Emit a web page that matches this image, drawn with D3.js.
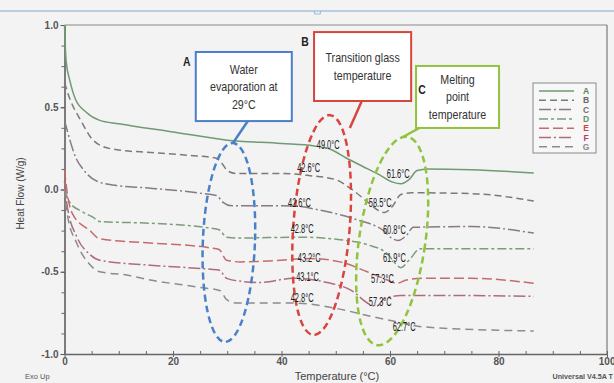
<!DOCTYPE html>
<html><head><meta charset="utf-8">
<script src="https://cdn.jsdelivr.net/npm/d3@7"></script>
<style>body{margin:0;background:#f3f3f4;} svg{display:block}</style>
</head><body><svg id="c" width="614" height="383"></svg>
<script>
// ---------- data ----------
const seriesNames = ["A","B","C","D","E","F","G"];
const curveA = [[0,1.0],[0.3,0.78],[1,0.66],[2,0.55],[4,0.47],[6.5,0.42],[10,0.40],[20,0.35],[30,0.30],[40,0.28],[46,0.265],[49,0.245],[52,0.19],[55,0.14],[58,0.09],[60.5,0.045],[62,0.035],[63.5,0.06],[65,0.115],[67,0.125],[75,0.12],[86.5,0.10]];
const curveB = [[0,0.65],[1,0.55],[3,0.42],[5,0.31],[6.5,0.27],[10,0.24],[16,0.225],[22,0.21],[28,0.19],[29,0.16],[30,0.115],[31.5,0.098],[40,0.098],[45,0.085],[50,0.06],[53,0.0],[56,-0.08],[58,-0.13],[59,-0.14],[60.5,-0.1],[62,-0.03],[64,-0.02],[75,-0.025],[86.5,-0.07]];
const curveC = [[0,0.42],[1,0.3],[2,0.2],[3.5,0.12],[6,0.05],[9.6,0.024],[15,0.01],[25.6,-0.025],[28,-0.037],[29.3,-0.08],[30.5,-0.098],[42,-0.1],[47,-0.125],[54,-0.185],[58.8,-0.25],[60.5,-0.3],[61.5,-0.31],[63,-0.28],[64.3,-0.23],[75,-0.225],[86.5,-0.265]];
const curveD = [[0,0.0],[1,-0.08],[3,-0.13],[5.3,-0.17],[6.5,-0.195],[15.8,-0.205],[26.9,-0.235],[28.5,-0.245],[29.9,-0.29],[31.8,-0.295],[43.4,-0.29],[50.8,-0.305],[55.8,-0.335],[59.5,-0.39],[61,-0.45],[62,-0.475],[63.5,-0.43],[65.6,-0.36],[86.5,-0.36]];
const curveE = [[0,0.12],[0.5,-0.02],[1.5,-0.15],[4.7,-0.25],[6.5,-0.3],[15.8,-0.325],[26.9,-0.355],[28.5,-0.365],[29.9,-0.43],[32.4,-0.44],[37.3,-0.435],[45.3,-0.42],[50.8,-0.44],[55.8,-0.5],[58.8,-0.54],[61.3,-0.57],[63,-0.55],[66,-0.54],[75,-0.54],[86.5,-0.57]];
const curveF = [[0,0.05],[0.5,-0.1],[2.3,-0.29],[4.5,-0.39],[6.5,-0.43],[15.8,-0.46],[26.9,-0.485],[28.5,-0.49],[29.9,-0.54],[31.8,-0.555],[36,-0.565],[42.2,-0.54],[48.4,-0.565],[52.7,-0.61],[56.4,-0.7],[57.5,-0.71],[59.1,-0.66],[62,-0.645],[75,-0.645],[86.5,-0.65]];
const curveG = [[0,0.0],[0.5,-0.15],[2.3,-0.33],[4.5,-0.45],[6.5,-0.5],[11.5,-0.52],[15.8,-0.55],[25,-0.595],[28.7,-0.615],[29.9,-0.67],[31.8,-0.69],[42.2,-0.69],[49.6,-0.72],[57,-0.775],[60.6,-0.8],[62.7,-0.815],[66.1,-0.835],[86.5,-0.86]];
const curves = [curveA,curveB,curveC,curveD,curveE,curveF,curveG];

const tgLabels = ["49.0°C","42.6°C","42.6°C","42.8°C","43.2°C","43.1°C","42.8°C"];
const tgAnchors = [[46.5,0.246],[42.9,0.106],[41.2,-0.106],[41.7,-0.264],[43.0,-0.441],[42.7,-0.556],[41.7,-0.684]];
const tmLabels = ["61.6°C","58.5°C","60.8°C","61.9°C","57.3°C","57.3°C","62.7°C"];
const tmAnchors = [[59.4,0.070],[56.1,-0.106],[58.7,-0.27],[58.7,-0.441],[56.5,-0.568],[56.1,-0.708],[60.5,-0.86]];

const xTicks = [0,20,40,60,80,100];
const yTicks = [-1.0,-0.5,0.0,0.5,1.0];
const yTickLabels = ["-1.0","-0.5","0.0","0.5","1.0"];

const regionLetters = ["A","B","C"];
const regionText = [["Water","evaporation at","29°C"],["Transition glass","temperature"],["Melting","point","temperature"]];
// ellipse centre (T, HF), half-width (T units), half-height (HF units), tilt (deg)
const regionEllipses = [[30.3,-0.322,4.8,0.605,2.3],[47.4,-0.216,5.2,0.67,4.4],[60.4,-0.313,6.1,0.64,8.2]];
// box corners (T0, HF0, T1, HF1)
const regionBoxes = [[24.2,0.836,41.9,0.416],[46.0,0.957,63.9,0.538],[64.8,0.751,80.1,0.374]];
// pointer line (T0,HF0,T1,HF1)
const regionPointers = [[33.8,0.416,31.05,0.283],[54.8,0.538,52.6,0.374],[67.0,0.404,62.4,0.319]];

// ---------- styles ----------
const colors = ["#6f9a72","#7a7a7a","#877a82","#7c9c7a","#c46b6b","#b06b7a","#8c8c8c"];
const letterColors = ["#4f8a4f","#666","#7a6a7a","#5f925f","#c84848","#b0406a","#888"];
const dashes = [null,"7,4","12,3,2,3","9,3,3,3","10,4","12,3,2,3","8,5"];
const regionColors = ["#4a80c8","#d8453e","#8fc43f"];

const svg = d3.select("#c");
const W=614,H=383;
svg.append("rect").attr("width",W).attr("height",H).attr("fill","#f3f3f4");

const x = d3.scaleLinear().domain([0,100]).range([64.5,607]);
const y = d3.scaleLinear().domain([-1,1]).range([354,25]);

// top blue rule
svg.append("line").attr("x1",0).attr("x2",W).attr("y1",11).attr("y2",11).attr("stroke","#a9c1dd").attr("stroke-width",1.5);
svg.append("path").attr("d","M314,11 L315,14 L320,14 L321,11").attr("fill","none").attr("stroke","#9fbbdc").attr("stroke-width",1.2);

// frame
svg.append("line").attr("x1",x(0)).attr("x2",x(100)).attr("y1",y(1)).attr("y2",y(1)).attr("stroke","#8a8a8a").attr("stroke-width",1.2);
svg.append("line").attr("x1",x(100)).attr("x2",x(100)).attr("y1",y(1)).attr("y2",y(-1)).attr("stroke","#7a7a7a").attr("stroke-width",1.2);

// axes
const yMinor = d3.axisLeft(y).tickValues(d3.range(-1,1.0001,0.125)).tickSize(3).tickFormat("").tickSizeOuter(0);
svg.append("g").attr("transform",`translate(${x(0)},0)`).call(yMinor)
  .call(g=>g.selectAll("line").attr("stroke","#666"))
  .call(g=>g.select(".domain").remove());
const yAxis = d3.axisLeft(y).tickValues(yTicks).tickFormat((d,i)=>yTickLabels[i]).tickSize(4).tickSizeOuter(0).tickPadding(2);
svg.append("g").attr("transform",`translate(${x(0)},0)`).call(yAxis)
  .call(g=>g.select(".domain").attr("stroke","#555").attr("stroke-width",1.5))
  .call(g=>g.selectAll("line").attr("stroke","#555"))
  .call(g=>g.selectAll("text").attr("font-family","Liberation Sans, Arial, sans-serif").attr("font-size",10).attr("font-weight","bold").attr("fill","#555"));

const xMinor = d3.axisBottom(x).tickValues(d3.range(0,100.1,5)).tickSize(-3).tickFormat("").tickSizeOuter(0);
svg.append("g").attr("transform",`translate(0,${y(-1)})`).call(xMinor)
  .call(g=>g.selectAll("line").attr("stroke","#666"))
  .call(g=>g.select(".domain").attr("stroke","#666").attr("stroke-width",1.5));
const xAxis = d3.axisBottom(x).tickValues(xTicks).tickSize(3).tickSizeOuter(0).tickPadding(1);
svg.append("g").attr("transform",`translate(0,${y(-1)})`).call(xAxis)
  .call(g=>g.select(".domain").remove())
  .call(g=>g.selectAll("line").attr("stroke","#666"))
  .call(g=>g.selectAll("text").attr("font-family","Liberation Sans, Arial, sans-serif").attr("font-size",10).attr("font-weight","bold").attr("fill","#555"))
  .call(g=>g.selectAll(".tick").filter(d=>d===100).select("text").attr("text-anchor","end").attr("dx",8));

// axis titles
svg.append("text").attr("transform",`translate(24,${(y(1)+y(-1))/2+4}) rotate(-90)`).attr("text-anchor","middle")
  .attr("font-family","Liberation Sans, Arial, sans-serif").attr("font-size",10).attr("fill","#444").text("Heat Flow (W/g)");
svg.append("text").attr("x",337).attr("y",380).attr("text-anchor","middle")
  .attr("font-family","Liberation Sans, Arial, sans-serif").attr("font-size",11).attr("fill","#444").text("Temperature (°C)");
svg.append("text").attr("x",25).attr("y",379).attr("font-family","Liberation Sans, Arial, sans-serif").attr("font-size",7.5).attr("fill","#555").text("Exo Up");
svg.append("text").attr("x",613).attr("y",379).attr("text-anchor","end").attr("font-family","Liberation Sans, Arial, sans-serif").attr("font-size",7.2).attr("font-weight","bold").attr("fill","#555").text("Universal V4.5A T");

// curves
const line = d3.line().x(d=>x(d[0])).y(d=>y(d[1])).curve(d3.curveMonotoneX);
const plot = svg.append("g");
curves.forEach((c,i)=>{
  plot.append("path").attr("d",line(c)).attr("fill","none").attr("stroke",colors[i])
    .attr("stroke-width",1.5).attr("stroke-dasharray",dashes[i]);
});

// legend
const lg = svg.append("g");
lg.append("rect").attr("x",533).attr("y",83).attr("width",63).attr("height",70).attr("fill","#f7f7f8").attr("stroke","#8a8a8a").attr("stroke-width",1);
seriesNames.forEach((n,i)=>{
  const yy = 91 + i*9.3;
  lg.append("line").attr("x1",539).attr("x2",574).attr("y1",yy).attr("y2",yy).attr("stroke",colors[i]).attr("stroke-width",1.5).attr("stroke-dasharray",dashes[i]);
  lg.append("text").attr("x",586).attr("y",yy+3).attr("text-anchor","middle").attr("font-family","Liberation Sans, Arial, sans-serif")
    .attr("font-size",8.5).attr("font-weight","bold").attr("fill",letterColors[i]).text(n);
});

function condense(sel,k){ sel.each(function(){ const w=this.getComputedTextLength(); d3.select(this).attr("textLength",w*k).attr("lengthAdjust","spacingAndGlyphs"); }); }

// region ellipses, boxes and pointers
const ann = svg.append("g");
regionEllipses.forEach((e,i)=>{
  const cx=x(e[0]), cy=y(e[1]), rx=x(e[2])-x(0), ry=y(0)-y(e[3]);
  ann.append("ellipse").attr("cx",0).attr("cy",0).attr("rx",rx).attr("ry",ry)
    .attr("transform",`translate(${cx},${cy}) rotate(${e[4]})`)
    .attr("fill","none").attr("stroke",regionColors[i]).attr("stroke-width",2.5).attr("stroke-dasharray","7,4");
});
regionPointers.forEach((p,i)=>{
  ann.append("line").attr("x1",x(p[0])).attr("y1",y(p[1])).attr("x2",x(p[2])).attr("y2",y(p[3]))
    .attr("stroke",regionColors[i]).attr("stroke-width",2.5);
});
regionBoxes.forEach((b,i)=>{
  const x0=x(b[0]), y0=y(b[1]), x1=x(b[2]), y1=y(b[3]);
  ann.append("rect").attr("x",x0).attr("y",y0).attr("width",x1-x0).attr("height",y1-y0)
    .attr("fill","#ffffff").attr("stroke",regionColors[i]).attr("stroke-width",2);
  const lines = regionText[i];
  const cxm=(x0+x1)/2, cym=(y0+y1)/2, lh=17.5;
  const t = ann.selectAll(null).data(lines).enter().append("text")
    .attr("x",cxm).attr("y",(d,j)=>cym+(j-(lines.length-1)/2)*lh+4.5)
    .attr("text-anchor","middle").attr("font-family","Liberation Sans, Arial, sans-serif").attr("font-size",13).attr("fill","#333").text(d=>d);
  condense(t,0.82);
});
// region letters
const letterPos = [[regionBoxes[0][0],regionBoxes[0][1],-9,14],[regionBoxes[1][0],regionBoxes[1][1],-9,14],[regionBoxes[2][0],regionBoxes[2][1],6,28]];
letterPos.forEach((p,i)=>{
  const t=ann.append("text").attr("x",x(p[0])+p[2]).attr("y",y(p[1])+p[3]).attr("text-anchor","middle")
    .attr("font-family","Liberation Sans, Arial, sans-serif").attr("font-size",13).attr("font-weight","bold").attr("fill","#222").text(regionLetters[i]);
  condense(t,0.8);
});

// temperature labels
const lab = svg.append("g");
function addLabels(texts,anchors){
  const t = lab.selectAll(null).data(texts).enter().append("text")
    .attr("x",(d,i)=>x(anchors[i][0])).attr("y",(d,i)=>y(anchors[i][1]))
    .attr("font-family","Liberation Sans, Arial, sans-serif").attr("font-size",12).attr("fill","#222").text(d=>d);
  condense(t,0.62);
}
addLabels(tgLabels,tgAnchors);
addLabels(tmLabels,tmAnchors);
</script></body></html>
